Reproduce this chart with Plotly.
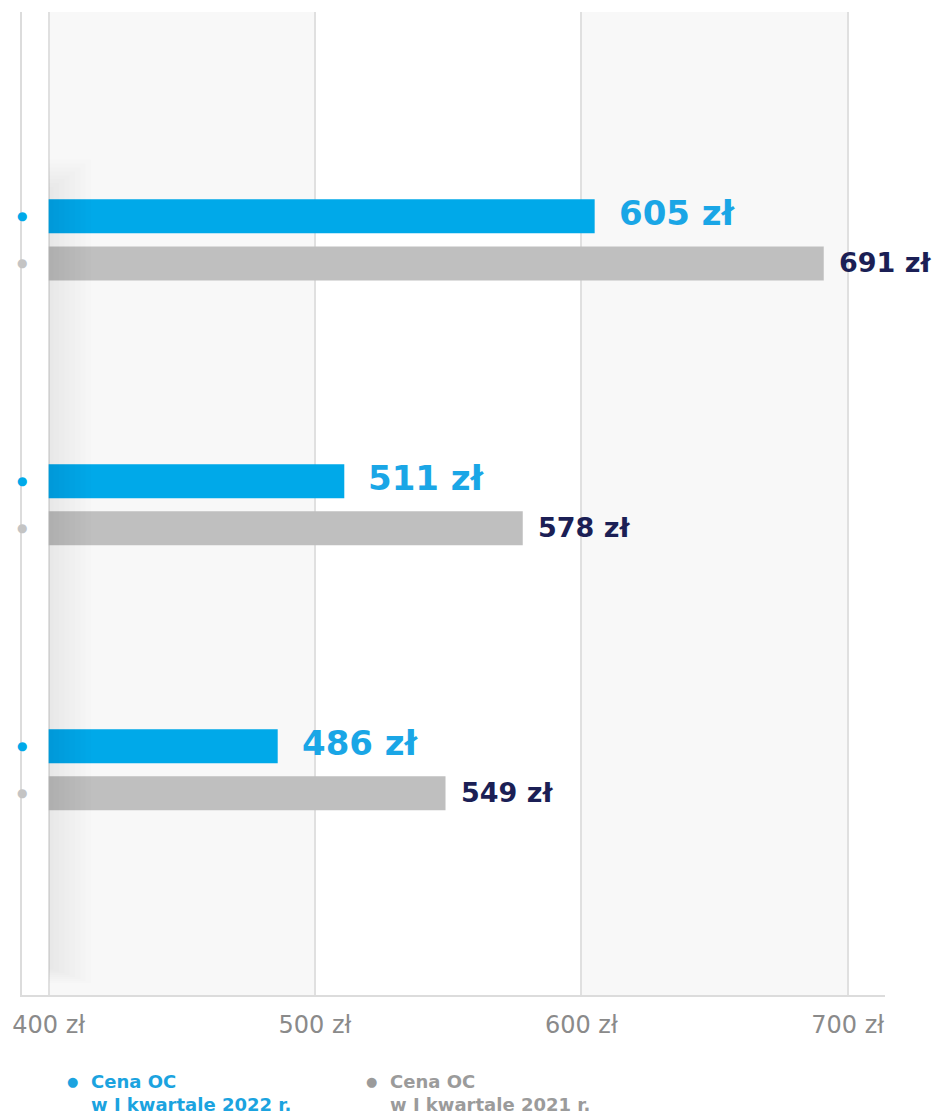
import plotly.graph_objects as go

# dane
grupy = ["A", "B", "C"]
ceny_2022 = [605, 511, 486]
ceny_2021 = [691, 578, 549]
etykiety_2022 = ["605 zł", "511 zł", "486 zł"]
etykiety_2021 = ["691 zł", "578 zł", "549 zł"]
tick_vals = [400, 500, 600, 700]
tick_text = ["400 zł", "500 zł", "600 zł", "700 zł"]
legenda = ["Cena OC<br>w I kwartale 2022 r.", "Cena OC<br>w I kwartale 2021 r."]

BASE = 400
BLUE = "#00a9e9"
BLUE_TXT = "#1aa6e6"
GRAY = "#bfbfbf"
NAVY = "#1b1f55"
FONT = "DejaVu Sans"

fig = go.Figure()
fig.add_trace(go.Bar(y=grupy, x=[v - BASE for v in ceny_2022], base=BASE, orientation="h",
                     marker=dict(color=BLUE, line=dict(width=0)), showlegend=False))
fig.add_trace(go.Bar(y=grupy, x=[v - BASE for v in ceny_2021], base=BASE, orientation="h",
                     marker=dict(color=GRAY, line=dict(width=0)), showlegend=False))

ann = []
for g, v, t in zip(grupy, ceny_2022, etykiety_2022):
    ann.append(dict(x=v, y=g, text=t, xanchor="left", yanchor="middle", xshift=22, yshift=27,
                    showarrow=False, font=dict(family=FONT, size=34, color=BLUE_TXT, weight=700)))
    ann.append(dict(x=390, y=g, text="●", xanchor="center", yanchor="middle", yshift=23.5,
                    showarrow=False, font=dict(family=FONT, size=12, color=BLUE)))
for g, v, t in zip(grupy, ceny_2021, etykiety_2021):
    ann.append(dict(x=v, y=g, text=t, xanchor="left", yanchor="middle", xshift=13, yshift=-23,
                    showarrow=False, font=dict(family=FONT, size=27, color=NAVY, weight=700)))
    ann.append(dict(x=390, y=g, text="●", xanchor="center", yanchor="middle", yshift=-23.5,
                    showarrow=False, font=dict(family=FONT, size=12, color="#c4c4c4")))

# legenda
for xb, xt, txt, col in [(0.0589, 0.0774, legenda[0], "#1ba3df"),
                         (0.405, 0.4238, legenda[1], "#9b9b9b")]:
    ann.append(dict(xref="paper", yref="paper", x=xb, y=-0.088, text="●", xanchor="center",
                    yanchor="middle", showarrow=False, font=dict(family=FONT, size=13, color=col)))
    ann.append(dict(xref="paper", yref="paper", x=xt, y=-0.075, text=txt, xanchor="left",
                    yanchor="top", align="left", showarrow=False,
                    font=dict(family=FONT, size=18, color=col, weight=700)))

shapes = []
for x0 in [400, 600]:
    shapes.append(dict(type="rect", xref="x", yref="paper", x0=x0, x1=x0 + 100, y0=0, y1=1,
                       fillcolor="#f8f8f8", line=dict(width=0), layer="below"))
# cień przy lewej krawędzi
for k in range(1, 9):
    shapes.append(dict(type="rect", xref="x", yref="paper", x0=400, x1=400 + k * 2,
                       y0=0.012 + 0.002 * (8 - k), y1=0.85 - 0.004 * (8 - k),
                       fillcolor="rgba(0,0,0,0.007)", line=dict(width=0), layer="above"))

fig.update_layout(
    width=939, height=1120,
    margin=dict(l=19, r=54, t=12, b=125),
    paper_bgcolor="white", plot_bgcolor="white",
    barmode="group", bargap=0.645, bargroupgap=0.277,
    annotations=ann, shapes=shapes,
    xaxis=dict(range=[390, 714], tickvals=tick_vals, ticktext=tick_text, showgrid=True,
               gridcolor="#e0e0e0", gridwidth=1.5, zeroline=False, showline=True,
               linecolor="#dcdcdc", linewidth=2, ticks="", ticklabelstandoff=7,
               tickfont=dict(family=FONT, size=24, color="#8a8a8a")),
    yaxis=dict(range=[2.85, -0.86], showticklabels=False, showgrid=False, zeroline=False,
               showline=True, linecolor="#dcdcdc", linewidth=2, ticks=""),
)

fig.write_html("out.html", config={"displayModeBar": False},
               post_script="document.body.style.margin='0';")
